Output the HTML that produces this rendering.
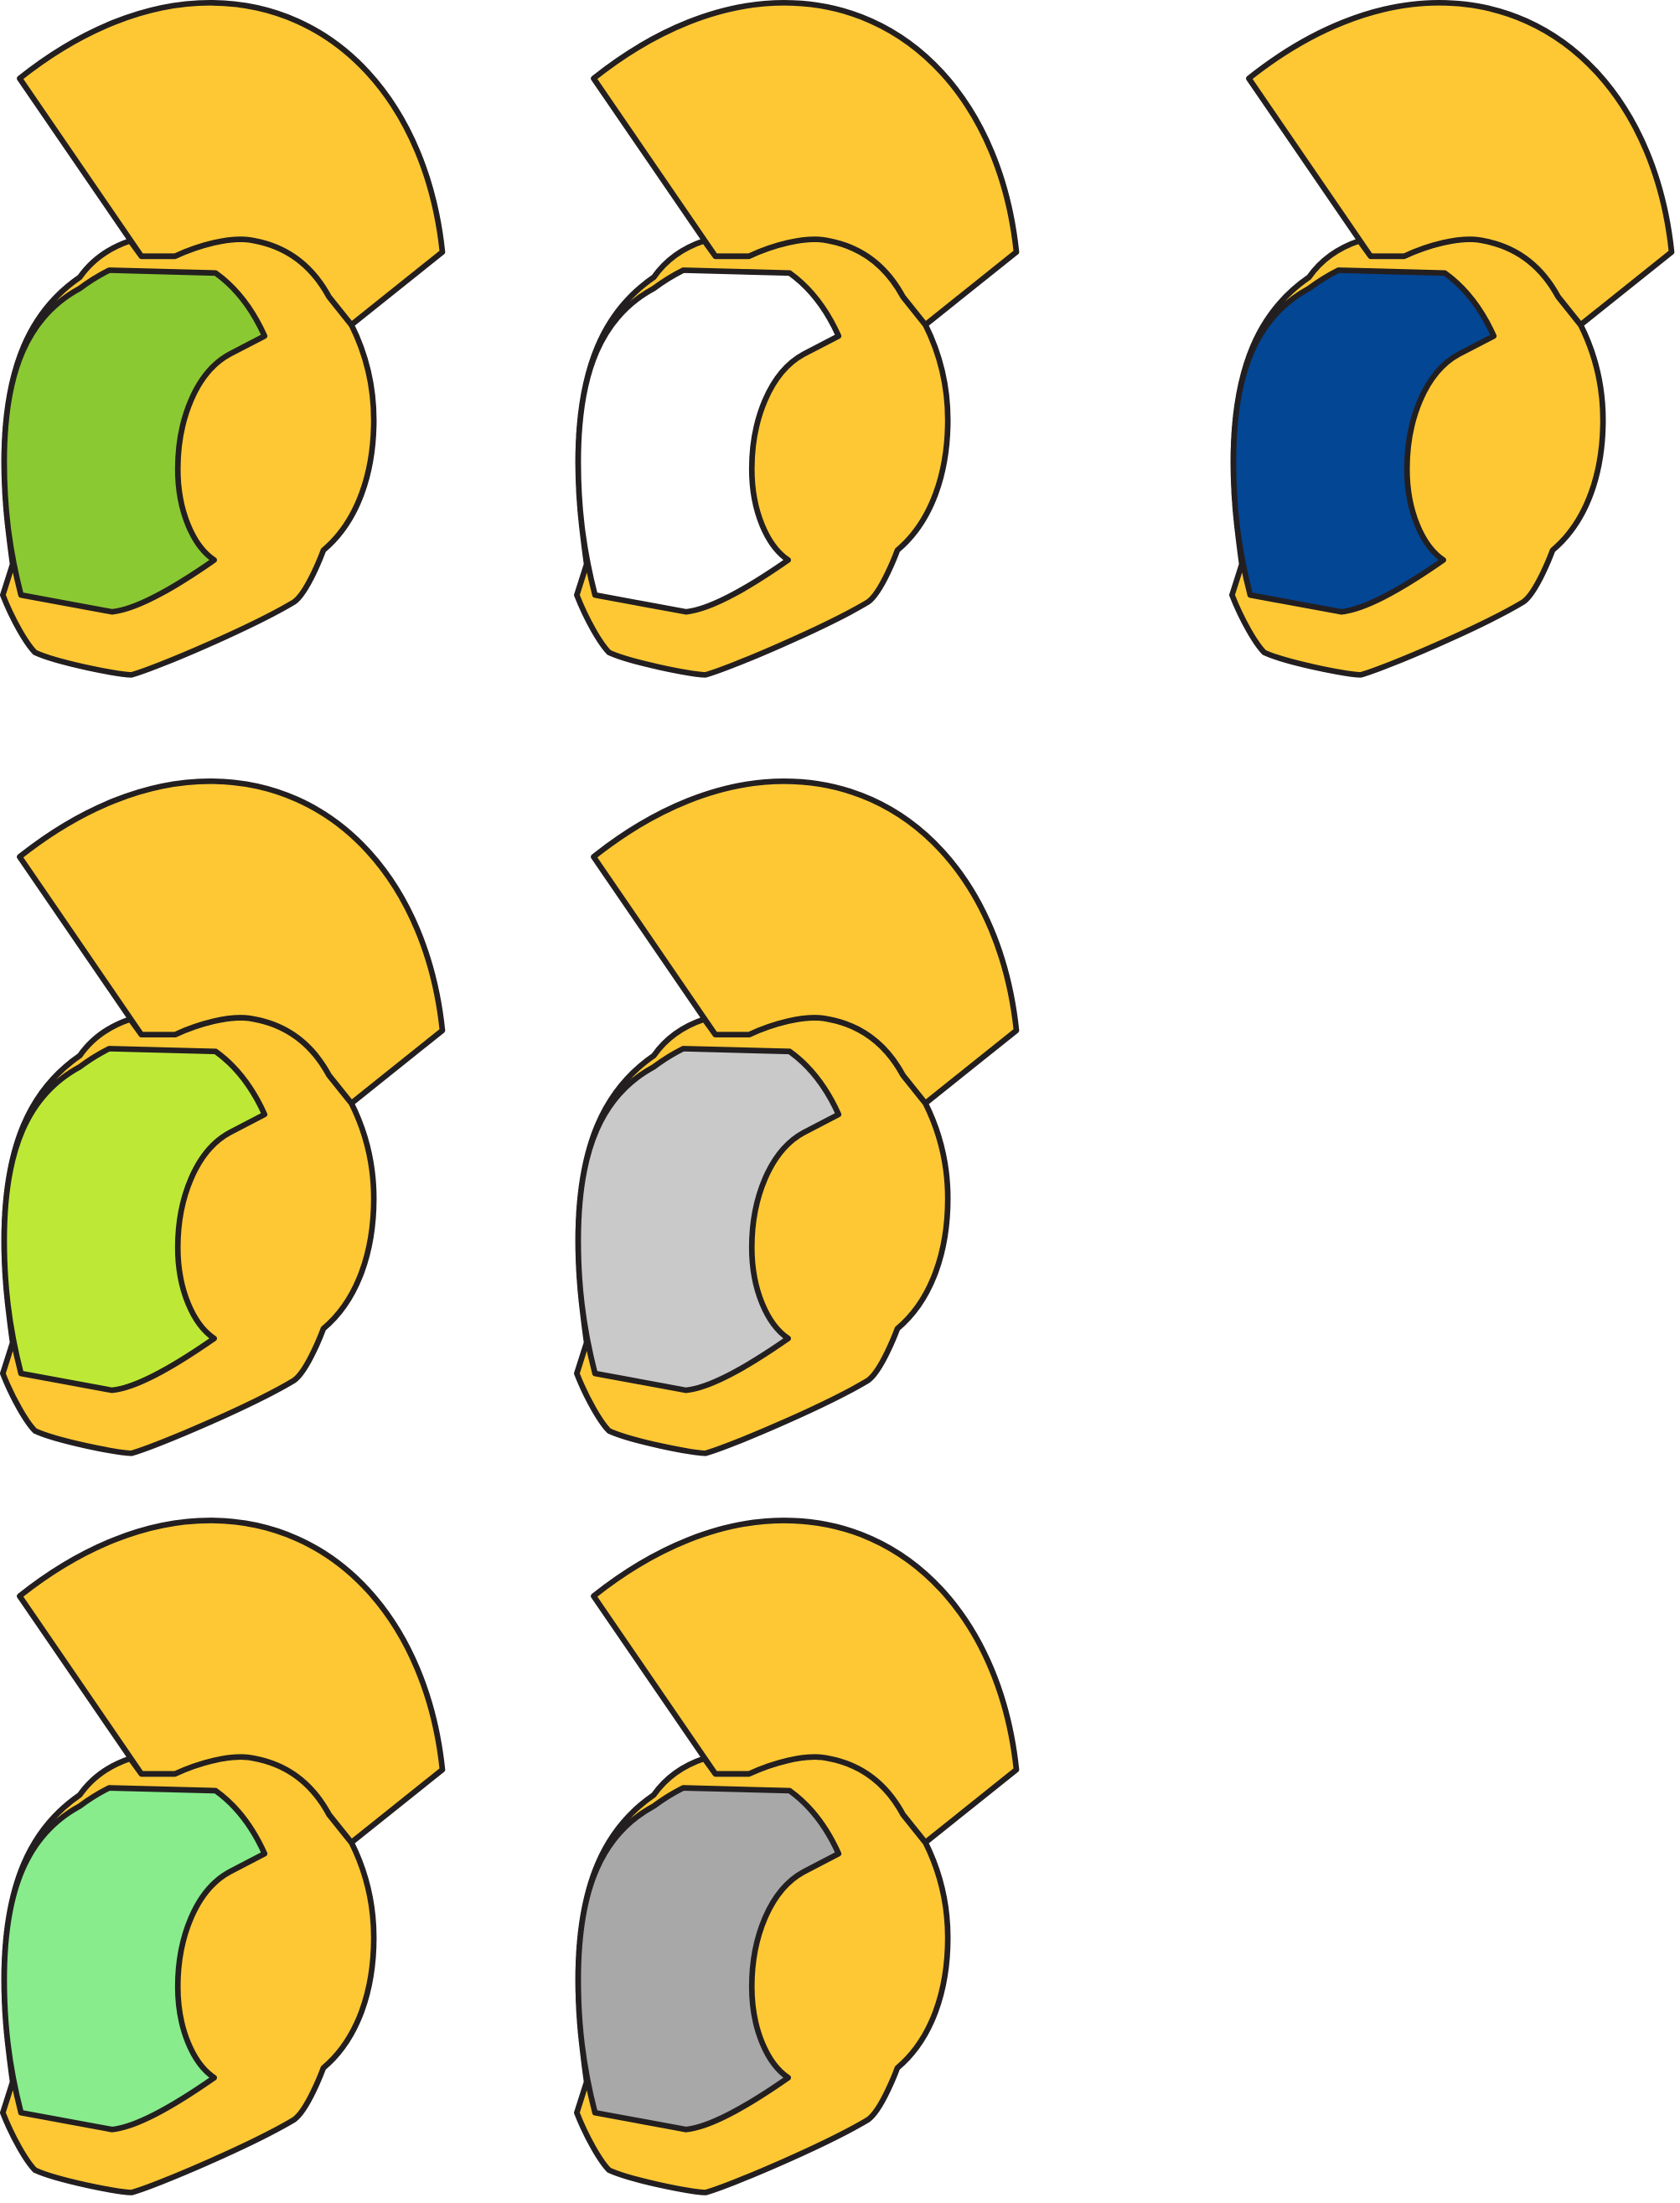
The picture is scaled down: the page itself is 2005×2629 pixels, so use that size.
<!DOCTYPE html>
<html><head><meta charset="utf-8"><style>
html,body{margin:0;padding:0;background:#fff;width:2005px;height:2629px;overflow:hidden}
svg{display:block}
</style></head><body>
<svg width="2005" height="2629" viewBox="0 0 1200 1573.5" preserveAspectRatio="none" xmlns="http://www.w3.org/2000/svg">
<defs>
<g id="helmet" stroke="#231f20" stroke-width="4" stroke-linejoin="round">
  <path fill="#fec834" d="M93,172 C75,178 64,188 57,198 C22,222 3,262 3,330 C3,360 7,388 9,403 L2,425 C9,443 19,460 25,466 C40,473 84,482 94,482 C112,477 180,448 210,430 C220,423 231,393 231,393 C256,372 267,337 267,300 C267,275 261,252 251,232 L235,212 C222,188 203,176 182,172 C165,168 140,176 125,183 L101,183 Z"/>
  <path fill="#fec834" d="M14,56 C58,21 105,2 150,2 C240,2 305,75 316,180 L251,232 L235,212 C222,188 203,176 182,172 C165,168 140,176 125,183 L101,183 Z"/>
  <path fill="currentColor" d="M78,193 L154,195 C168,205 180,220 189,240 L164,253 C140,266 127,300 127,335 C127,365 138,390 153,400 C130,416 100,435 80,437 L15,425 C6,390 3,360 3,330 C3,265 20,226 57,206 C65,200 72,196 78,193 Z"/>
</g>
</defs>
<use href="#helmet" x="0" y="0" color="#8bc933"/>
<use href="#helmet" x="410" y="0" color="#ffffff"/>
<use href="#helmet" x="878" y="0" color="#034694"/>
<use href="#helmet" x="0" y="556" color="#bde936"/>
<use href="#helmet" x="410" y="556" color="#c9c9c9"/>
<use href="#helmet" x="0" y="1084" color="#88ec8c"/>
<use href="#helmet" x="410" y="1084" color="#a8a8a8"/>
</svg>
</body></html>
